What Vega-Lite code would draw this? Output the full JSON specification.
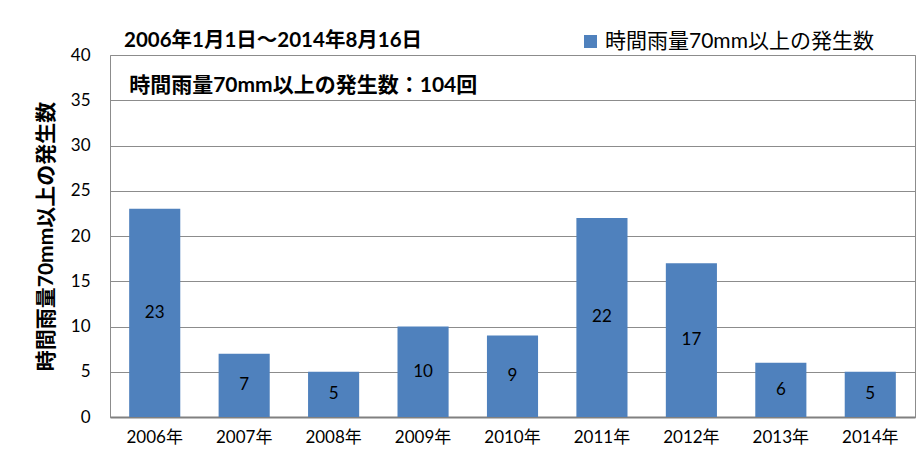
{
  "$schema": "https://vega.github.io/schema/vega-lite/v6.json",
  "width": 805,
  "height": 362,
  "autosize": {"type": "none"},
  "padding": {"left": 110, "top": 55, "right": 6, "bottom": 45},
  "background": "white",
  "config": {
    "font": "Lato, Noto Sans CJK JP",
    "view": {"stroke": "#8c8c8c", "strokeWidth": 1}
  },
  "data": {
    "values": [
      {"year": "2006年", "n": 23},
      {"year": "2007年", "n": 7},
      {"year": "2008年", "n": 5},
      {"year": "2009年", "n": 10},
      {"year": "2010年", "n": 9},
      {"year": "2011年", "n": 22},
      {"year": "2012年", "n": 17},
      {"year": "2013年", "n": 6},
      {"year": "2014年", "n": 5}
    ]
  },
  "title": {
    "text": "2006年1月1日～2014年8月16日",
    "anchor": "start",
    "frame": "group",
    "dx": 14,
    "offset": -20,
    "fontSize": 20.5,
    "fontWeight": "bold",
    "font": "Lato, Noto Sans CJK JP",
    "color": "black"
  },
  "resolve": {"scale": {"y": "independent"}},
  "layer": [
    {
      "mark": {"type": "bar", "color": "#4f81bd"},
      "encoding": {
        "x": {
          "field": "year", "type": "nominal", "sort": null,
          "scale": {"paddingInner": 0.4286, "paddingOuter": 0.2143},
          "axis": {
            "title": null, "labelAngle": 0, "labelFontSize": 17, "labelColor": "black",
            "labelPadding": 12, "ticks": false, "domainColor": "#808080", "domainWidth": 2
          }
        },
        "y": {
          "field": "n", "type": "quantitative",
          "scale": {"domain": [0, 40]},
          "axis": {
            "values": [0, 5, 10, 15, 20, 25, 30, 35, 40],
            "title": "時間雨量70mm以上の発生数",
            "titleFontSize": 21, "titleFontWeight": "bold", "titleColor": "black",
            "titlePadding": 14,
            "labelFontSize": 17, "labelColor": "black", "labelPadding": 20,
            "ticks": false, "domain": false,
            "gridColor": "#8c8c8c", "gridOpacity": 1
          }
        },
        "color": {
          "datum": "時間雨量70mm以上の発生数",
          "type": "nominal",
          "scale": {"range": ["#4f81bd"]},
          "legend": {
            "title": null, "orient": "none", "legendX": 470, "legendY": -24,
            "symbolType": "square", "symbolSize": 170, "symbolOpacity": 1,
            "labelFontSize": 21, "labelColor": "black", "labelOffset": 4, "labelLimit": 400
          }
        }
      }
    },
    {
      "mark": {"type": "text", "fontSize": 17, "color": "black", "baseline": "middle"},
      "encoding": {
        "x": {"field": "year", "type": "nominal", "sort": null},
        "y": {"field": "n", "type": "quantitative", "scale": {"domain": [0, 80]}, "axis": null},
        "text": {"field": "n", "type": "quantitative"}
      }
    },
    {
      "data": {"values": [{"label": "時間雨量70mm以上の発生数：104回", "year": "2006年", "y": 36.6}]},
      "mark": {"type": "text", "fontSize": 21, "fontWeight": "bold", "color": "black", "align": "left", "baseline": "middle"},
      "encoding": {
        "x": {"field": "year", "type": "nominal", "bandPosition": 0},
        "y": {"field": "y", "type": "quantitative", "scale": {"domain": [0, 40]}, "axis": null},
        "text": {"field": "label"}
      }
    }
  ]
}
